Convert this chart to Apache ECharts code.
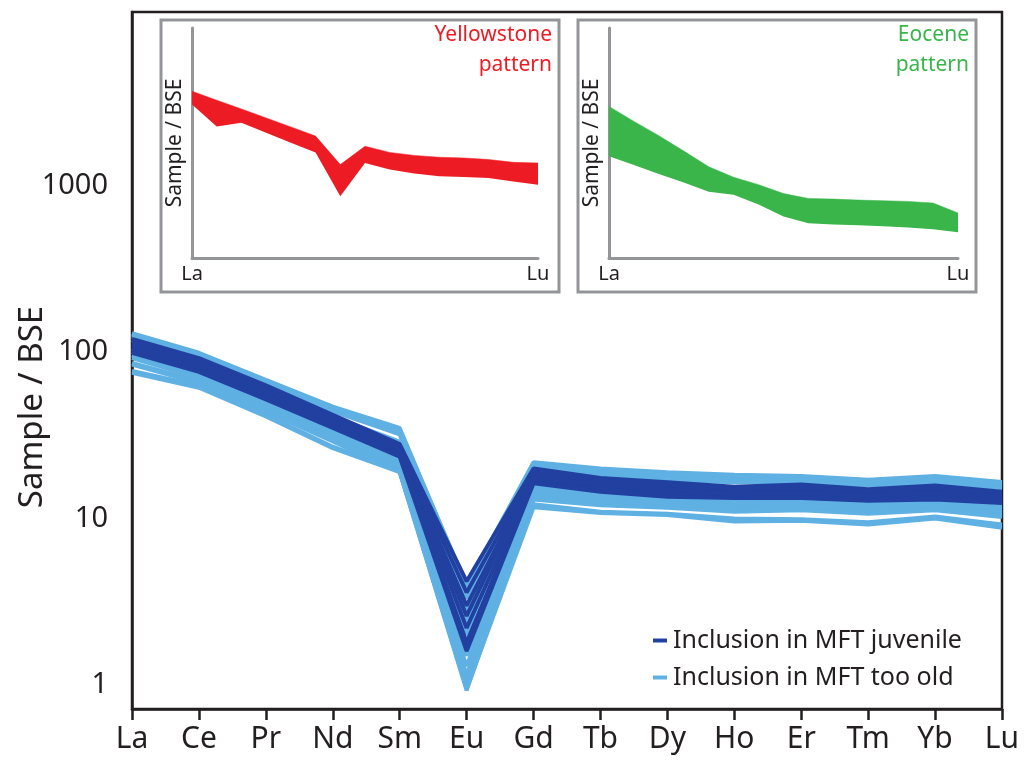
<!DOCTYPE html>
<html>
<head>
<meta charset="utf-8">
<script src="https://cdn.jsdelivr.net/npm/echarts@6/dist/echarts.min.js"></script>
<style>
  html, body { margin: 0; padding: 0; background: #fff; }
  #chart { width: 1026px; height: 762px; }
</style>
</head>
<body>
<div id="chart"></div>
<script>
// REE names, main plot
var elements = ['La', 'Ce', 'Pr', 'Nd', 'Sm', 'Eu', 'Gd', 'Tb', 'Dy', 'Ho', 'Er', 'Tm', 'Yb', 'Lu'];
var yTicks = [1, 10, 100, 1000];

// inclusion in MFT juvenile (dark blue)
var juvenile = [
  [120, 92, 63, 42, 28, 4.2, 20, 17.5, 16.5, 15.5, 16, 15, 15.8, 14.5],
  [116, 88, 60, 40, 27, 3.6, 19, 17, 16, 15, 15.5, 14.8, 15.5, 14],
  [112, 85, 58, 39, 26, 3.0, 18.5, 16.5, 15.5, 14.5, 15, 14.2, 15, 13.5],
  [108, 83, 57, 38, 25.5, 2.6, 18, 16, 15, 14.2, 14.5, 14, 14.5, 13.2],
  [105, 80, 55, 37, 25, 2.2, 17, 15.5, 14.5, 14, 14, 13.5, 14, 13],
  [102, 78, 54, 36, 24, 1.8, 16.5, 15, 14, 13.8, 13.8, 13.2, 13.5, 12.8],
  [99, 76, 52, 35, 23.5, 1.6, 16.3, 14.5, 13.5, 13.3, 13.3, 12.8, 13, 12.4],
  [110, 86, 59, 40, 26, 1.7, 17.5, 16, 15, 14, 14.2, 13.8, 14.2, 13.4]
];

// inclusion in MFT too old (light blue)
var tooOld = [
  [130, 99, 68, 47, 35, 3.9, 21.8, 20, 19, 18.3, 18, 17.1, 18, 16.6],
  [127, 96, 66, 45, 33, 3.3, 21, 19.2, 18.3, 17.6, 17.4, 16.6, 17.2, 16],
  [124, 94, 64, 44, 32, 2.8, 20.5, 18.5, 17.8, 17, 17, 16.2, 16.8, 15.5],
  [118, 90, 61, 41, 29, 2.4, 19.5, 18, 17, 16.5, 16.5, 15.8, 16.4, 15.2],
  [105, 80, 55, 37, 24, 2.0, 16.5, 15, 14, 13.5, 13.5, 13, 13.5, 12.5],
  [100, 76, 52, 35, 22.5, 1.5, 15.5, 14.2, 13.3, 12.8, 12.8, 12.3, 12.8, 12],
  [96, 73, 50, 33, 21.5, 1.3, 15, 13.8, 13, 12.2, 12.5, 12, 12.4, 11.5],
  [92, 70, 48, 32, 20.5, 1.15, 14.5, 13.4, 12.6, 11.8, 12, 11.6, 12, 11],
  [95, 74, 51, 34, 20, 1.05, 14, 13, 12.5, 11.5, 12, 11.2, 11.6, 10.8],
  [86, 67, 46, 30.5, 19.5, 0.98, 13.4, 12.5, 12, 11.5, 11.5, 10.8, 11.5, 10.5],
  [84, 65, 44, 29, 19, 0.93, 13, 12, 11.6, 11, 11.2, 10.7, 11.2, 10.2],
  [77, 63, 42, 27, 19.2, 1.0, 12.2, 11, 10.7, 10, 9.9, 9.5, 10.3, 9.2],
  [75, 61, 41, 26.5, 19, 0.95, 11.7, 10.8, 10.5, 9.6, 9.7, 9.2, 10, 8.8],
  [128, 97, 67, 46, 34, 4.0, 21.5, 19.5, 18.5, 18, 17.8, 17, 17.6, 16.3]
];

// insets (arbitrary units, 0 = bottom of inset axis, 100 = top)
var insetElements = ['La', 'Ce', 'Pr', 'Nd', 'Pm', 'Sm', 'Eu', 'Gd', 'Tb', 'Dy', 'Ho', 'Er', 'Tm', 'Yb', 'Lu'];
var yellowstoneUpper = [72.5, 68.6, 64.8, 60.9, 57.0, 53.0, 40.6, 48.6, 45.9, 44.6, 43.8, 43.5, 42.8, 41.6, 41.3];
var yellowstoneLower = [66.7, 57.2, 58.8, 54.5, 50.1, 45.9, 26.8, 41.3, 38.5, 36.7, 35.5, 35.2, 34.8, 33.3, 31.9];
var eoceneUpper = [65.9, 59.4, 53.2, 46.5, 39.7, 35.1, 31.9, 28.0, 25.9, 25.6, 25.2, 24.9, 24.6, 23.9, 19.6];
var eoceneLower = [44.2, 40.4, 36.5, 32.8, 28.8, 27.5, 23.3, 18.0, 15.1, 14.6, 14.2, 13.8, 13.3, 12.5, 11.2];

var darkBlue = '#2140a0';
var lightBlue = '#5fb0e3';
var ink = '#231f20';
var gray = '#939598';
var font = 'Noto Sans';

var chart = echarts.init(document.getElementById('chart'));

var series = [];
tooOld.forEach(function (vals) {
  series.push({
    name: 'Inclusion in MFT too old', type: 'line', xAxisIndex: 0, yAxisIndex: 0,
    data: vals, symbol: 'none', lineStyle: { color: lightBlue, width: 4 }, itemStyle: { color: lightBlue }
  });
});
juvenile.forEach(function (vals) {
  series.push({
    name: 'Inclusion in MFT juvenile', type: 'line', xAxisIndex: 0, yAxisIndex: 0,
    data: vals, symbol: 'none', lineStyle: { color: darkBlue, width: 4 }, itemStyle: { color: darkBlue }
  });
});

function band(idx, lower, upper, color, key) {
  series.push({
    type: 'line', xAxisIndex: idx, yAxisIndex: idx, stack: key, data: lower,
    symbol: 'none', lineStyle: { width: 0, opacity: 0 }, silent: true
  });
  series.push({
    type: 'line', xAxisIndex: idx, yAxisIndex: idx, stack: key,
    data: upper.map(function (u, i) { return +(u - lower[i]).toFixed(2); }),
    symbol: 'none', lineStyle: { width: 0.5, color: color }, areaStyle: { color: color, opacity: 1 }, silent: true
  });
}
band(1, yellowstoneLower, yellowstoneUpper, '#ed1c24', 'ys');
band(2, eoceneLower, eoceneUpper, '#39b54a', 'eo');

function insetX(idx) {
  return {
    type: 'category', gridIndex: idx, data: insetElements, boundaryGap: false,
    axisLine: { lineStyle: { color: gray, width: 3 } },
    axisTick: { show: false },
    axisLabel: {
      interval: 0, margin: 6, color: ink, fontFamily: font, fontSize: 20,
      formatter: function (v, i) { return (i === 0 || i === insetElements.length - 1) ? v : ''; }
    }
  };
}
function insetY(idx) {
  return {
    type: 'value', gridIndex: idx, min: 0, max: 100,
    axisLine: { show: true, lineStyle: { color: gray, width: 3 } },
    axisTick: { show: false }, axisLabel: { show: false }, splitLine: { show: false },
    name: 'Sample / BSE', nameLocation: 'middle', nameGap: 6, nameRotate: 90,
    nameTextStyle: { color: ink, fontFamily: font, fontSize: 21 }
  };
}

chart.setOption({
  animation: false,
  legend: {
    orient: 'vertical', left: 648, top: 623, itemGap: 12,
    icon: 'rect', itemWidth: 14, itemHeight: 4,
    data: ['Inclusion in MFT juvenile', 'Inclusion in MFT too old'],
    textStyle: { color: ink, fontFamily: font, fontSize: 25, padding: [0, 0, 0, 1] }
  },
  grid: [
    { left: 132, top: 12, right: 24, bottom: 53, show: true, borderColor: ink, borderWidth: 2.5, outerBoundsMode: 'none', containLabel: false },
    { left: 192, top: 28, width: 346, height: 230, outerBoundsMode: 'none', containLabel: false },
    { left: 609, top: 28, width: 349, height: 230, outerBoundsMode: 'none', containLabel: false }
  ],
  xAxis: [
    {
      type: 'category', gridIndex: 0, data: elements, boundaryGap: false,
      axisLine: { lineStyle: { color: ink, width: 2.5 } },
      axisTick: { alignWithLabel: true, length: 11, lineStyle: { color: ink, width: 2.5 } },
      axisLabel: { interval: 0, margin: 15, color: ink, fontFamily: font, fontSize: 30 }
    },
    insetX(1), insetX(2)
  ],
  yAxis: [
    {
      type: 'log', gridIndex: 0, logBase: 10, min: 0.718, max: 11020,
      axisLine: { show: true, lineStyle: { color: ink, width: 2.5 } },
      axisTick: { customValues: yTicks, length: 12, lineStyle: { color: ink, width: 2.5 } },
      axisLabel: { customValues: yTicks, margin: 24, color: ink, fontFamily: font, fontSize: 29,
        formatter: function (v) { return String(Math.round(v)); } },
      splitLine: { show: false }
    },
    insetY(1), insetY(2)
  ],
  graphic: [
    { type: 'text', x: 33, y: 407, rotation: Math.PI / 2,
      style: { text: 'Sample / BSE', align: 'center', verticalAlign: 'middle', fill: ink, font: '33px "Noto Sans"' } },
    { type: 'rect', shape: { x: 161, y: 20, width: 398, height: 272 }, style: { fill: null, stroke: gray, lineWidth: 3 } },
    { type: 'rect', shape: { x: 578, y: 20, width: 398, height: 272 }, style: { fill: null, stroke: gray, lineWidth: 3 } },
    { type: 'text', x: 552, y: 20, style: { text: 'Yellowstone\npattern', align: 'right', fill: '#ed1c24',
      font: '21px "Noto Sans"', lineHeight: 30 } },
    { type: 'text', x: 969, y: 20, style: { text: 'Eocene\npattern', align: 'right', fill: '#39b54a',
      font: '21px "Noto Sans"', lineHeight: 30 } }
  ],
  series: series
});
</script>
</body>
</html>
